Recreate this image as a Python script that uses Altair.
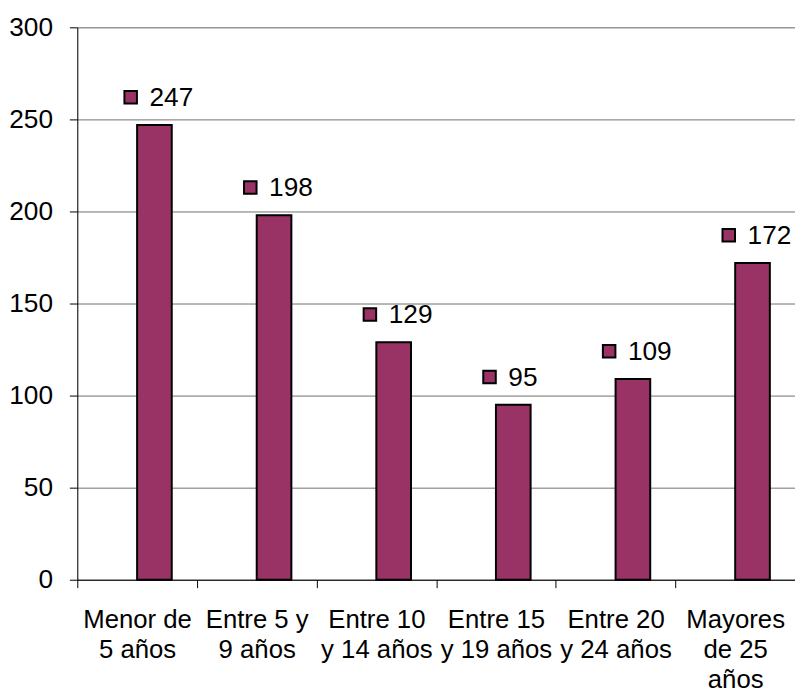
import altair as alt
import pandas as pd

categories = ["Menor de|5 años", "Entre 5 y|9 años", "Entre 10|y 14 años",
              "Entre 15|y 19 años", "Entre 20|y 24 años", "Mayores|de 25|años"]
values = [247, 198, 129, 95, 109, 172]

df = pd.DataFrame({"cat": categories, "val": values})

FONT = "Liberation Sans"
COLOR = "#993366"

x = alt.X("cat:N", sort=categories, title=None,
          scale=alt.Scale(paddingInner=0, paddingOuter=0),
          axis=alt.Axis(labelExpr="split(datum.label, '|')", labelAngle=0,
                        tickBand="extent", tickSize=8, tickColor="black",
                        domainColor="black", labelFont=FONT, labelFontSize=26,
                        labelLineHeight=30.5, labelPadding=19, labelColor="black",
                        grid=False))
y = alt.Y("val:Q", title=None,
          scale=alt.Scale(domain=[0, 300], nice=False),
          axis=alt.Axis(values=[0, 50, 100, 150, 200, 250, 300], tickSize=8,
                        tickColor="black", domainColor="black", gridColor="#707070",
                        gridOpacity=1, labelFont=FONT, labelFontSize=26.5,
                        labelPadding=17, labelColor="black"))

base = alt.Chart(df).encode(x=x, y=y)

bars = base.mark_bar(width=35, xOffset=17.5, color=COLOR, stroke="black", strokeWidth=2)
squares = base.mark_square(size=160, xOffset=-6.5, yOffset=-28, color=COLOR,
                           stroke="black", strokeWidth=2, opacity=1)
labels = base.mark_text(align="left", baseline="middle", dx=12.5, dy=-27,
                        font=FONT, fontSize=26.5, color="black").encode(text="val:Q")

chart = (bars + squares + labels).properties(
    width=725, height=558,
    autosize=alt.AutoSizeParams(type="none"),
    padding={"left": 70, "top": 16, "right": 0, "bottom": 122},
).configure_view(stroke=None).configure(background="white")

chart.save("out.html", embed_options={"renderer": "svg", "actions": False})
